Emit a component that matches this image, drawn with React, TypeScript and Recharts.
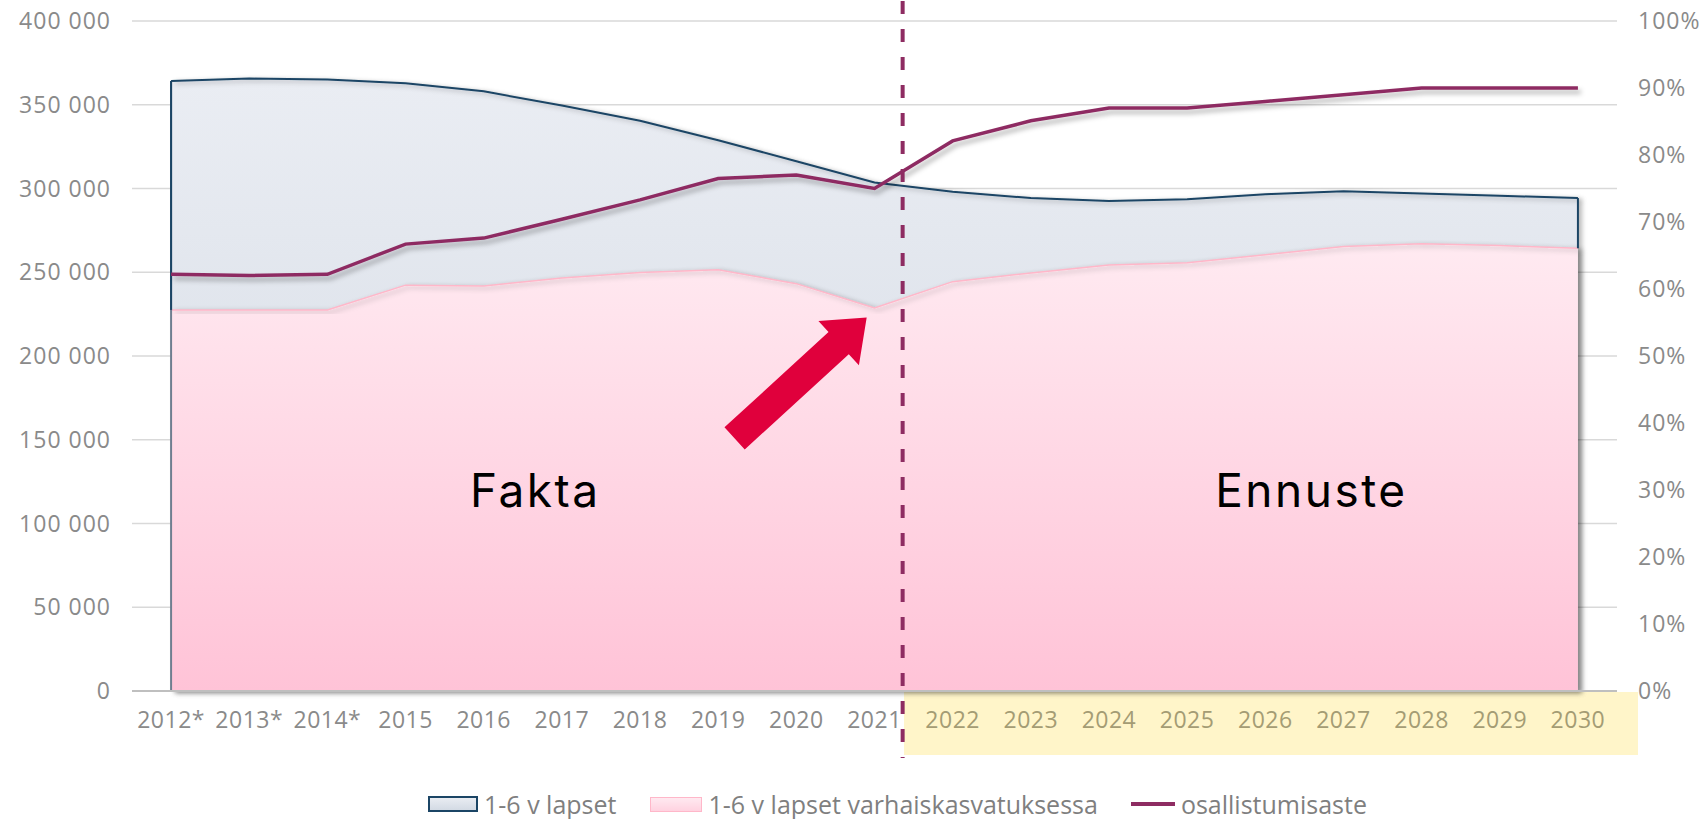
import React from 'react';
import {
  ComposedChart, Area, Line, XAxis, YAxis, CartesianGrid, Legend, ReferenceLine, ReferenceDot,
} from 'recharts';

const years = ['2012*', '2013*', '2014*', '2015', '2016', '2017', '2018', '2019', '2020', '2021', '2022', '2023', '2024', '2025', '2026', '2027', '2028', '2029', '2030'];
const children16 = [364200, 365600, 365100, 362800, 358000, 349500, 340500, 328800, 316300, 303600, 298000, 294300, 292500, 293600, 296600, 298300, 297000, 295700, 294300];
const childrenEcec = [227500, 227500, 227500, 242300, 241800, 246600, 249800, 251500, 243200, 228700, 244400, 249600, 254400, 255600, 260500, 265300, 267000, 265900, 264300];
const participation = [62.2, 62.0, 62.2, 66.7, 67.6, 70.4, 73.3, 76.5, 77.0, 75.0, 82.1, 85.1, 87.0, 87.0, 88.0, 89.0, 90.0, 90.0, 90.0];
const leftTicks = [0, 50000, 100000, 150000, 200000, 250000, 300000, 350000, 400000];
const rightTicks = [0, 10, 20, 30, 40, 50, 60, 70, 80, 90, 100];
const seriesNames = ['1-6 v lapset', '1-6 v lapset varhaiskasvatuksessa', 'osallistumisaste'];
const forecastStart = 10;

const data = years.map((y, i) => ({
  i,
  year: y,
  total: children16[i],
  ecec: childrenEcec[i],
  rate: participation[i],
}));

const FONT = '"Open Sans", sans-serif';
const GRAY = '#8a8a8a';
const PURPLE = '#8e2c62';
const NAVY = '#1b4565';

const fmtThousands = (v: number) => String(v).replace(/\B(?=(\d{3})+(?!\d))/g, ' ');

const XTick = (props: any) => {
  const { x, y, payload } = props;
  const idx = payload.value as number;
  const forecast = idx >= forecastStart;
  return (
    <text x={x} y={y} dy="0.71em" textAnchor="middle" fontFamily={FONT} fontSize={23} letterSpacing={0.5}
      fill={forecast ? '#a49c74' : GRAY}>
      {years[idx]}
    </text>
  );
};

const ArrowShape = (p: any) => {
  const { x1, y1, x2, y2 } = p;
  if ([x1, y1, x2, y2].some((v) => typeof v !== 'number' || isNaN(v))) return null;
  const dx = x2 - x1;
  const dy = y2 - y1;
  const len = Math.hypot(dx, dy);
  const ux = dx / len;
  const uy = dy / len;
  const nx = -uy;
  const ny = ux;
  const sw = 15;
  const hw = 30;
  const hl = 38;
  const bx = x2 - ux * hl;
  const by = y2 - uy * hl;
  const pts = [
    [x1 + nx * sw, y1 + ny * sw],
    [bx + nx * sw, by + ny * sw],
    [bx + nx * hw, by + ny * hw],
    [x2, y2],
    [bx - nx * hw, by - ny * hw],
    [bx - nx * sw, by - ny * sw],
    [x1 - nx * sw, y1 - ny * sw],
  ];
  return <polygon points={pts.map((q) => q.join(',')).join(' ')} fill="#e0003c" />;
};

const textShape = (label: string) => (p: any) => (
  <text x={p.cx} y={p.cy} textAnchor="middle" dominantBaseline="central" fontFamily="Inter, sans-serif"
    fontSize={46} letterSpacing={2.5} fill="#000">
    {label}
  </text>
);

const LegendContent = () => (
  <div style={{ height: 30, width: '100%', display: 'flex', alignItems: 'center', paddingLeft: 428, boxSizing: 'border-box', fontFamily: FONT, fontSize: 25, color: '#7f7f7f', whiteSpace: 'nowrap' }}>
    <span style={{ display: 'inline-block', width: 46, height: 12, border: `2px solid ${NAVY}`, background: 'linear-gradient(#e9ecf2, #d3dae4)', marginRight: 6 }} />
    <span style={{ marginRight: 34 }}>{seriesNames[0]}</span>
    <span style={{ display: 'inline-block', width: 50, height: 13, border: '1.5px solid #ffb7c9', background: 'linear-gradient(#ffe9f0, #ffd2e0)', marginRight: 6 }} />
    <span style={{ marginRight: 33 }}>{seriesNames[1]}</span>
    <span style={{ display: 'inline-block', width: 44, height: 3.5, background: PURPLE, marginRight: 6 }} />
    <span>{seriesNames[2]}</span>
  </div>
);

export default function App() {
  return (
    <div style={{ position: 'absolute', left: 0, top: 0, width: 1699, height: 819, background: '#fff' }}>
      <div style={{ position: 'absolute', left: 904, top: 692, width: 734, height: 63, background: '#fff5c9' }} />
      <div style={{ position: 'absolute', left: 0, top: 0 }}>
        <ComposedChart width={1699} height={819} data={data} margin={{ top: 21, right: 0, bottom: 0, left: 0 }}>
          <defs>
            <linearGradient id="gBlue" x1="0" y1="0" x2="0" y2="1">
              <stop offset="0%" stopColor="#eaedf3" />
              <stop offset="100%" stopColor="#d2d9e3" />
            </linearGradient>
            <linearGradient id="gPink" x1="0" y1="0" x2="0" y2="1">
              <stop offset="0%" stopColor="#ffeaf1" />
              <stop offset="100%" stopColor="#ffc3d7" />
            </linearGradient>
            <filter id="shArea" x="-5%" y="-5%" width="110%" height="110%">
              <feDropShadow dx="4" dy="2" stdDeviation="2.5" floodColor="#000" floodOpacity="0.28" />
            </filter>
            <filter id="shLine" x="-5%" y="-20%" width="110%" height="140%">
              <feDropShadow dx="3" dy="4" stdDeviation="2.5" floodColor="#000" floodOpacity="0.3" />
            </filter>
          </defs>
          <CartesianGrid vertical={false} stroke="#d9d9d9" strokeWidth={1.5} yAxisId="left" />
          <XAxis dataKey="i" type="number" domain={[-0.5, 18.5]} ticks={years.map((_, i) => i)} interval={0}
            height={98} tickSize={0} tickMargin={21} tick={<XTick />} axisLine={{ stroke: '#bfbfbf', strokeWidth: 2 }} />
          <YAxis yAxisId="left" orientation="left" width={132} domain={[0, 400000]} ticks={leftTicks}
            tickFormatter={fmtThousands} axisLine={false} tickLine={false} tickSize={0} tickMargin={21}
            tick={{ fill: GRAY, fontSize: 23, fontFamily: FONT, letterSpacing: 1 }} />
          <YAxis yAxisId="right" orientation="right" width={82} domain={[0, 100]} ticks={rightTicks}
            tickFormatter={(v: number) => `${v}%`} axisLine={false} tickLine={false} tickSize={0} tickMargin={21}
            tick={{ fill: GRAY, fontSize: 23, fontFamily: FONT, letterSpacing: 1, textAnchor: 'start' }} />
          <Area yAxisId="left" type="linear" dataKey="total" name={seriesNames[0]} stroke={NAVY} strokeWidth={2}
            fill="url(#gBlue)" fillOpacity={1} isAnimationActive={false} filter="url(#shArea)" />
          <ReferenceLine yAxisId="left" segment={[{ x: 0, y: 0 }, { x: 0, y: children16[0] }]} stroke="#6f7e90" strokeWidth={2} />
          <Area yAxisId="left" type="linear" dataKey="ecec" name={seriesNames[1]} stroke="#ffb7c9" strokeWidth={1.5}
            fill="url(#gPink)" fillOpacity={1} isAnimationActive={false} filter="url(#shArea)" />
          <ReferenceLine yAxisId="left" segment={[{ x: 0, y: childrenEcec[0] }, { x: 0, y: children16[0] }]} stroke={NAVY} strokeWidth={2} />
          <ReferenceLine yAxisId="left" segment={[{ x: 18, y: childrenEcec[18] }, { x: 18, y: children16[18] }]} stroke={NAVY} strokeWidth={2} />
          <Line yAxisId="right" type="linear" dataKey="rate" name={seriesNames[2]} stroke={PURPLE} strokeWidth={3.5}
            dot={false} activeDot={false} isAnimationActive={false} filter="url(#shLine)" />
          <ReferenceLine yAxisId="left" ifOverflow="visible"
            segment={[{ x: 9.36, y: 412000 }, { x: 9.36, y: -40000 }]}
            stroke={PURPLE} strokeWidth={4} strokeDasharray="13 15" />
          <ReferenceLine yAxisId="left" ifOverflow="visible"
            segment={[{ x: 7.21, y: 150800 }, { x: 8.9, y: 223000 }]} shape={ArrowShape} />
          <ReferenceDot yAxisId="left" x={4.66} y={119800} r={0} shape={textShape('Fakta')} ifOverflow="visible" />
          <ReferenceDot yAxisId="left" x={14.59} y={119800} r={0} shape={textShape('Ennuste')} ifOverflow="visible" />
          <Legend verticalAlign="bottom" height={30} content={<LegendContent />} />
        </ComposedChart>
      </div>
    </div>
  );
}
